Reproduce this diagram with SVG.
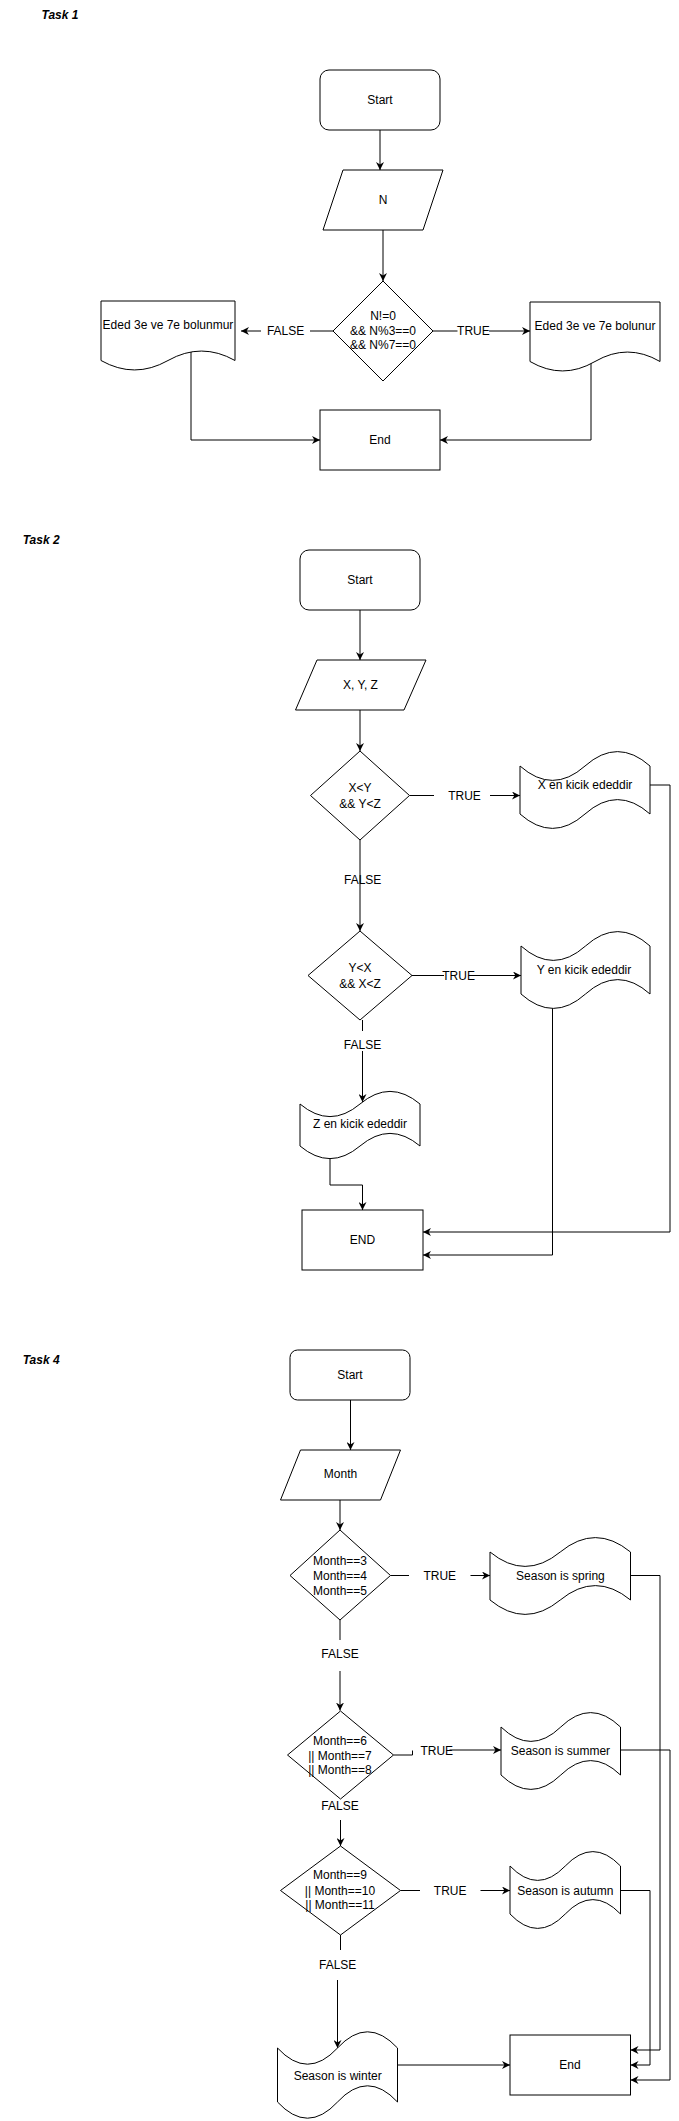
<svg xmlns="http://www.w3.org/2000/svg" width="679" height="2121" viewBox="0 0 679 2121">
<style>
.s{fill:#fff;stroke:#000;stroke-width:1}
.t{font-family:"Liberation Sans",Arial,sans-serif;font-size:12px;fill:#000;text-anchor:middle}
.h{font-family:"Liberation Sans",Arial,sans-serif;font-size:12px;font-weight:bold;font-style:italic;fill:#000}
.c{fill:none;stroke:#000;stroke-width:1;marker-end:url(#a)}
</style>
<defs>
<marker id="a" viewBox="0 0 10 10" refX="10" refY="5" markerWidth="8" markerHeight="8" markerUnits="userSpaceOnUse" orient="auto">
<path d="M0,0 L10,5 L0,10 L3,5 Z" fill="#000"/>
</marker>
</defs>
<rect width="679" height="2121" fill="#fff"/>

<text class="h" x="41.5" y="19">Task 1</text>
<text class="h" x="22.7" y="544">Task 2</text>
<text class="h" x="22.7" y="1364">Task 4</text>

<g id="connectors">
<!-- Task 1 -->
<path class="c" d="M380,130 V170"/>
<path class="c" d="M383,230 V281"/>
<path class="c" d="M333,331 H310 M261,331 H241"/>
<path class="c" d="M433,331 H457.5 M489,331 H530"/>
<path class="c" d="M191,352 V440 H320"/>
<path class="c" d="M591,362 V440 H440"/>
<!-- Task 2 -->
<path class="c" d="M360,610 V660"/>
<path class="c" d="M360,710 V751"/>
<path class="c" d="M409.5,795.5 H434 M490,795.5 H520"/>
<path class="c" d="M360,840 V931"/>
<path class="c" d="M412,975.5 H444 M473,975.5 H521"/>
<path class="c" d="M362.5,1020 V1031 M362.5,1051 V1102"/>
<path class="c" d="M330,1158 V1185 H362.5 V1210"/>
<path class="c" d="M650,785 H670 V1232 H423"/>
<path class="c" d="M552.5,1008 V1255 H423"/>
<!-- Task 4 -->
<path class="c" d="M350.5,1400 V1450"/>
<path class="c" d="M340,1500 V1530"/>
<path class="c" d="M390.5,1575.5 H409 M470.5,1575.5 H490"/>
<path class="c" d="M340,1620 V1640 M340,1671 V1710.5"/>
<path class="c" d="M393.5,1755 H412.5 V1750.5 M449.5,1750 H501"/>
<path class="c" d="M340.5,1820 V1846"/>
<path class="c" d="M400.5,1890.5 H420 M480.5,1890.5 H510"/>
<path class="c" d="M340.5,1935 V1950 M337.5,1980 V2048"/>
<path class="c" d="M397.5,2065 H510"/>
<path class="c" d="M630.5,1575.5 H660 V2050 H630.5"/>
<path class="c" d="M620.5,1750 H670 V2080 H630.5"/>
<path class="c" d="M620.5,1890.5 H650 V2065 H630.5"/>
</g>

<g id="labels">
<text class="t" x="285.6" y="335">FALSE</text>
<text class="t" x="473.4" y="335">TRUE</text>
<text class="t" x="464.5" y="799.5">TRUE</text>
<text class="t" x="362.7" y="884">FALSE</text>
<text class="t" x="458.6" y="979.5">TRUE</text>
<text class="t" x="362.5" y="1049">FALSE</text>
<text class="t" x="439.8" y="1580">TRUE</text>
<text class="t" x="340" y="1658">FALSE</text>
<text class="t" x="436.8" y="1754.5">TRUE</text>
<text class="t" x="340" y="1809.5">FALSE</text>
<text class="t" x="450.2" y="1894.5">TRUE</text>
<text class="t" x="337.7" y="1968.5">FALSE</text>
</g>

<!-- Task 1 nodes -->
<g id="t1-start"><rect class="s" x="320" y="70" width="120" height="60" rx="9"/><text class="t" x="380" y="104">Start</text></g>
<g id="t1-input"><polygon class="s" points="343,170 443,170 423,230 323,230"/><text class="t" x="383" y="204">N</text></g>
<g id="t1-cond"><polygon class="s" points="383,281 433,331 383,381 333,331"/>
<text class="t" x="383" y="320">N!=0</text><text class="t" x="383" y="334.5">&amp;&amp; N%3==0</text><text class="t" x="383" y="349">&amp;&amp; N%7==0</text></g>
<g id="t1-false"><path class="s" d="M101,301 H235 V360.5 Q201.5,341.6 168,360.5 Q134.5,379.4 101,360.5 Z"/><text class="t" x="168" y="329">Eded 3e ve 7e bolunmur</text></g>
<g id="t1-true"><path class="s" d="M530,302 H660 V361.5 Q627.5,342.6 595,361.5 Q562.5,380.4 530,361.5 Z"/><text class="t" x="595" y="330">Eded 3e ve 7e bolunur</text></g>
<g id="t1-end"><rect class="s" x="320" y="410" width="120" height="60"/><text class="t" x="380" y="444">End</text></g>

<!-- Task 2 nodes -->
<g id="t2-start"><rect class="s" x="300" y="550" width="120" height="60" rx="9"/><text class="t" x="360" y="584">Start</text></g>
<g id="t2-input"><polygon class="s" points="317,660 426,660 404,710 295.5,710"/><text class="t" x="360.5" y="689">X, Y, Z</text></g>
<g id="t2-cond1"><polygon class="s" points="360,751 409.5,795.5 360,840 310.5,795.5"/>
<text class="t" x="360" y="791.5">X&lt;Y</text><text class="t" x="360" y="807.5">&amp;&amp; Y&lt;Z</text></g>
<g id="t2-x"><path class="s" d="M520,766 Q552.5,794.8 585,766 Q617.5,737.2 650,766 L650,814 Q617.5,785.2 585,814 Q552.5,842.8 520,814 Z"/><text class="t" x="585" y="789">X en kicik ededdir</text></g>
<g id="t2-cond2"><polygon class="s" points="360,931 412,975.5 360,1020 308,975.5"/>
<text class="t" x="360" y="971.5">Y&lt;X</text><text class="t" x="360" y="987.5">&amp;&amp; X&lt;Z</text></g>
<g id="t2-y"><path class="s" d="M521,946 Q553.25,974.8 585.5,946 Q617.75,917.2 650,946 L650,994 Q617.75,965.2 585.5,994 Q553.25,1022.8 521,994 Z"/><text class="t" x="584" y="974">Y en kicik ededdir</text></g>
<g id="t2-z"><path class="s" d="M300,1104 Q330,1129.2 360,1104 Q390,1078.8 420,1104 L420,1146 Q390,1120.8 360,1146 Q330,1171.2 300,1146 Z"/><text class="t" x="360" y="1128">Z en kicik ededdir</text></g>
<g id="t2-end"><rect class="s" x="302" y="1210" width="121" height="60"/><text class="t" x="362.5" y="1244">END</text></g>

<!-- Task 4 nodes -->
<g id="t4-start"><rect class="s" x="290" y="1350" width="120" height="50" rx="7.5"/><text class="t" x="350" y="1379">Start</text></g>
<g id="t4-input"><polygon class="s" points="300.5,1450 400.5,1450 380.5,1500 280.5,1500"/><text class="t" x="340.5" y="1478">Month</text></g>
<g id="t4-cond1"><polygon class="s" points="340,1530 390.5,1575.5 340,1620 290,1575.5"/>
<text class="t" x="340" y="1565">Month==3</text><text class="t" x="340" y="1580">Month==4</text><text class="t" x="340" y="1594.5">Month==5</text></g>
<g id="t4-spring"><path class="s" d="M490,1552 Q525.1,1580.8 560.25,1552 Q595.4,1523.2 630.5,1552 L630.5,1600 Q595.4,1571.2 560.25,1600 Q525.1,1628.8 490,1600 Z"/><text class="t" x="560.4" y="1580">Season is spring</text></g>
<g id="t4-cond2"><polygon class="s" points="340.5,1711 393.5,1755 340.5,1799 287.5,1755"/>
<text class="t" x="340" y="1745">Month==6</text><text class="t" x="340" y="1759.5">|| Month==7</text><text class="t" x="340" y="1774">|| Month==8</text></g>
<g id="t4-summer"><path class="s" d="M501,1727 Q530.9,1755.8 560.75,1727 Q590.6,1698.2 620.5,1727 L620.5,1775 Q590.6,1746.2 560.75,1775 Q530.9,1803.8 501,1775 Z"/><text class="t" x="560.4" y="1754.5">Season is summer</text></g>
<g id="t4-cond3"><polygon class="s" points="340.5,1846 400.5,1890.5 340.5,1935 280.5,1890.5"/>
<text class="t" x="340" y="1879">Month==9</text><text class="t" x="340" y="1894.5">|| Month==10</text><text class="t" x="340" y="1908.5">|| Month==11</text></g>
<g id="t4-autumn"><path class="s" d="M510,1866 Q537.6,1894.8 565.25,1866 Q592.9,1837.2 620.5,1866 L620.5,1914 Q592.9,1885.2 565.25,1914 Q537.6,1942.8 510,1914 Z"/><text class="t" x="565.3" y="1894.5">Season is autumn</text></g>
<g id="t4-winter"><path class="s" d="M277.5,2048 Q307.5,2080.4 337.5,2048 Q367.5,2015.6 397.5,2048 L397.5,2102 Q367.5,2069.6 337.5,2102 Q307.5,2134.4 277.5,2102 Z"/><text class="t" x="337.7" y="2079.5">Season is winter</text></g>
<g id="t4-end"><rect class="s" x="510" y="2035" width="120.5" height="60"/><text class="t" x="570" y="2069">End</text></g>
</svg>
